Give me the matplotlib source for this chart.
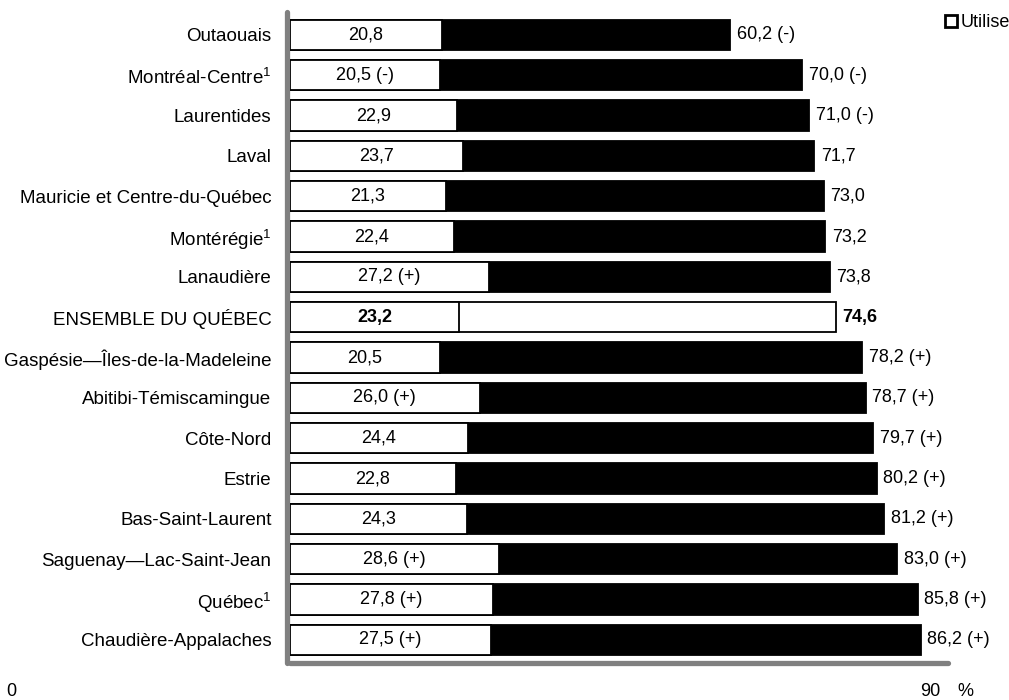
import matplotlib
matplotlib.use("agg")
from matplotlib import pyplot as plt
import numpy as np

plt.rcParams['font.family'] = ['Liberation Sans', 'DejaVu Sans']

regions = ["Outaouais", "Montréal-Centre$^{\\mathregular{1}}$", "Laurentides", "Laval",
           "Mauricie et Centre-du-Québec", "Montérégie$^{\\mathregular{1}}$", "Lanaudière",
           "ENSEMBLE DU QUÉBEC", "Gaspésie—Îles-de-la-Madeleine", "Abitibi-Témiscamingue",
           "Côte-Nord", "Estrie", "Bas-Saint-Laurent", "Saguenay—Lac-Saint-Jean",
           "Québec$^{\\mathregular{1}}$", "Chaudière-Appalaches"]
utilise = [20.8, 20.5, 22.9, 23.7, 21.3, 22.4, 27.2, 23.2, 20.5, 26.0, 24.4, 22.8, 24.3, 28.6, 27.8, 27.5]
utilise_flag = ["", " (-)", "", "", "", "", " (+)", "", "", " (+)", "", "", "", " (+)", " (+)", " (+)"]
total = [60.2, 70.0, 71.0, 71.7, 73.0, 73.2, 73.8, 74.6, 78.2, 78.7, 79.7, 80.2, 81.2, 83.0, 85.8, 86.2]
total_flag = [" (-)", " (-)", " (-)", "", "", "", "", "", " (+)", " (+)", " (+)", " (+)", " (+)", " (+)", " (+)", " (+)"]
ensemble = "ENSEMBLE DU QUÉBEC"

def fmt(v):
    return ("%.1f" % v).replace('.', ',')

fig = plt.figure(figsize=(10.09, 7.0), dpi=100)
ax = fig.add_axes([0.287, 0.053, 0.653, 0.930])
fs = 13
h = 0.75
y = np.arange(len(regions))

for i, name in enumerate(regions):
    tot_color = 'white' if name == ensemble else 'black'
    weight = 'bold' if name == ensemble else 'normal'
    ax.barh(i, total[i], height=h, color=tot_color, edgecolor='black', lw=1.3, zorder=2)
    ax.barh(i, utilise[i], height=h, color='white', edgecolor='black', lw=1.3, zorder=3)
    ax.text(utilise[i] / 2, i, fmt(utilise[i]) + utilise_flag[i], ha='center', va='center',
            fontsize=fs, fontweight=weight, zorder=4)
    ax.text(total[i] + 0.9, i, fmt(total[i]) + total_flag[i],
            ha='left', va='center', fontsize=fs, fontweight=weight)

ax.tick_params(axis='y', length=0, pad=11, labelsize=13.5)
ax.set_yticks(y)
ax.set_yticklabels(regions)
ax.set_xticks([])
ax.set_xlim(0, 90)
ax.set_ylim(15.57, -0.57)
for s in ['top', 'right']:
    ax.spines[s].set_visible(False)
for s in ['left', 'bottom']:
    ax.spines[s].set_color('#808080')
    ax.spines[s].set_linewidth(3.8)
    ax.spines[s].set_capstyle('round')
ax.spines['left'].set_position(('outward', 2))

fig.text(0.011, 0.0, "0", fontsize=fs, ha='center', va='bottom')
fig.text(0.922, 0.0, "90", fontsize=fs, ha='center', va='bottom')
fig.text(0.957, 0.0, "%", fontsize=fs, ha='center', va='bottom')

ax.bar(0, 0, color='white', edgecolor='black', lw=2, label='Utilise')
fig.legend(loc='upper right', bbox_to_anchor=(1.012, 0.995), frameon=False, fontsize=fs,
           handlelength=0.7, handleheight=0.7, handletextpad=0.2, borderaxespad=0.2)

plt.savefig("out.png", dpi=100)
